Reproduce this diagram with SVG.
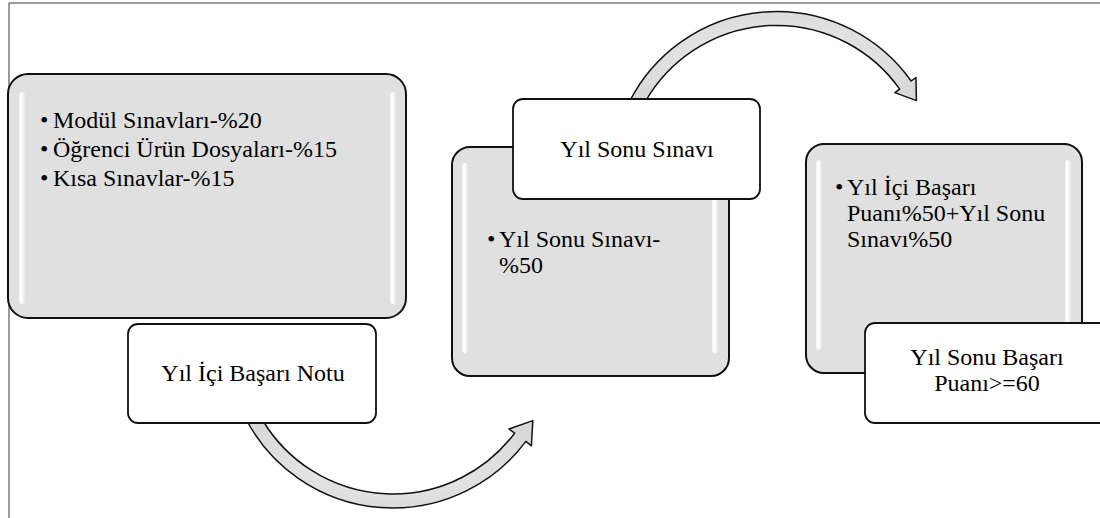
<svg xmlns="http://www.w3.org/2000/svg" width="1100" height="518" viewBox="0 0 1100 518">
<style>
.frame{stroke:#7a7a7a;stroke-width:1.5;fill:none}
.gbox{fill:#e0e0e0;stroke:#111;stroke-width:2}
.wbox{fill:#fff;stroke:#111;stroke-width:1.8}
.hl{fill:url(#hlg)}
.arrow{fill:url(#arg);stroke:#111;stroke-width:1.5;stroke-linejoin:round}
.t{font-family:"Times New Roman",Times,Tinos,"Liberation Serif","DejaVu Serif","Noto Serif",FreeSerif,serif;font-size:24px;fill:#000}
.c{text-anchor:middle}
</style>
<defs>
<linearGradient id="hlg" x1="0" y1="0" x2="1" y2="0">
<stop offset="0" stop-color="#fff" stop-opacity="0.6"/>
<stop offset="0.4" stop-color="#fff" stop-opacity="1"/>
<stop offset="1" stop-color="#fff" stop-opacity="0.2"/>
</linearGradient>
<radialGradient id="arg" cx="0.5" cy="0.5" r="0.6">
<stop offset="0" stop-color="#ececec"/>
<stop offset="1" stop-color="#d8d8d8"/>
</radialGradient>
</defs>
<rect width="1100" height="518" fill="#fff"/>
<g id="frame">
<line class="frame" x1="9" y1="3" x2="1100" y2="3"/>
<line class="frame" x1="9" y1="3" x2="9" y2="518"/>
</g>
<g id="connectors">
<path class="arrow" d="M247,421 A166,166 0 0 0 525.9,441.4 L531.4,445.8 L532.8,420.6 L509,429 L514.6,433.2 A152,152 0 0 1 263.1,421 Z"/>
<path class="arrow" d="M629.8,101 A165,165 0 0 1 911.1,81 L916,77.6 L916.4,100.6 L894.8,92.6 L899.7,89.1 A151,151 0 0 0 645.7,101 Z"/>
</g>
<g id="node-yil-ici-detay">
<rect class="gbox" x="8" y="74" width="398" height="244" rx="20"/>
<rect class="hl" x="19" y="92" width="6" height="212" rx="3"/>
<rect class="hl" x="390" y="92" width="6" height="212" rx="3"/>
<text class="t" x="40" y="128">•</text>
<text class="t" x="53" y="128">Modül Sınavları-%20</text>
<text class="t" x="40" y="157">•</text>
<text class="t" x="53" y="157">Öğrenci Ürün Dosyaları-%15</text>
<text class="t" x="40" y="186">•</text>
<text class="t" x="53" y="186">Kısa Sınavlar-%15</text>
</g>
<g id="node-yil-ici-notu">
<rect class="wbox" x="128" y="324" width="248" height="99" rx="10"/>
<text class="t c" x="253" y="381">Yıl İçi Başarı Notu</text>
</g>
<g id="node-yil-sonu-detay">
<rect class="gbox" x="452" y="147" width="277" height="229" rx="18"/>
<rect class="hl" x="462" y="163" width="6" height="190" rx="3"/>
<rect class="hl" x="712" y="163" width="6" height="190" rx="3"/>
<text class="t" x="487" y="247">•</text>
<text class="t" x="499" y="247">Yıl Sonu Sınavı-</text>
<text class="t" x="499" y="273">%50</text>
</g>
<g id="node-yil-sonu-sinavi">
<rect class="wbox" x="513" y="99" width="247" height="100" rx="10"/>
<text class="t c" x="637" y="157">Yıl Sonu Sınavı</text>
</g>
<g id="node-basari-detay">
<rect class="gbox" x="806" y="144" width="276" height="229" rx="18"/>
<rect class="hl" x="816" y="160" width="6" height="190" rx="3"/>
<rect class="hl" x="1065" y="160" width="6" height="190" rx="3"/>
<text class="t" x="835" y="195">•</text>
<text class="t" x="847" y="195">Yıl İçi Başarı</text>
<text class="t" x="847" y="221">Puanı%50+Yıl Sonu</text>
<text class="t" x="847" y="247">Sınavı%50</text>
</g>
<g id="node-yil-sonu-basari">
<rect class="wbox" x="865" y="323" width="250" height="100" rx="10"/>
<text class="t c" x="987" y="365">Yıl Sonu Başarı</text>
<text class="t c" x="987" y="391">Puanı&gt;=60</text>
</g>
</svg>
